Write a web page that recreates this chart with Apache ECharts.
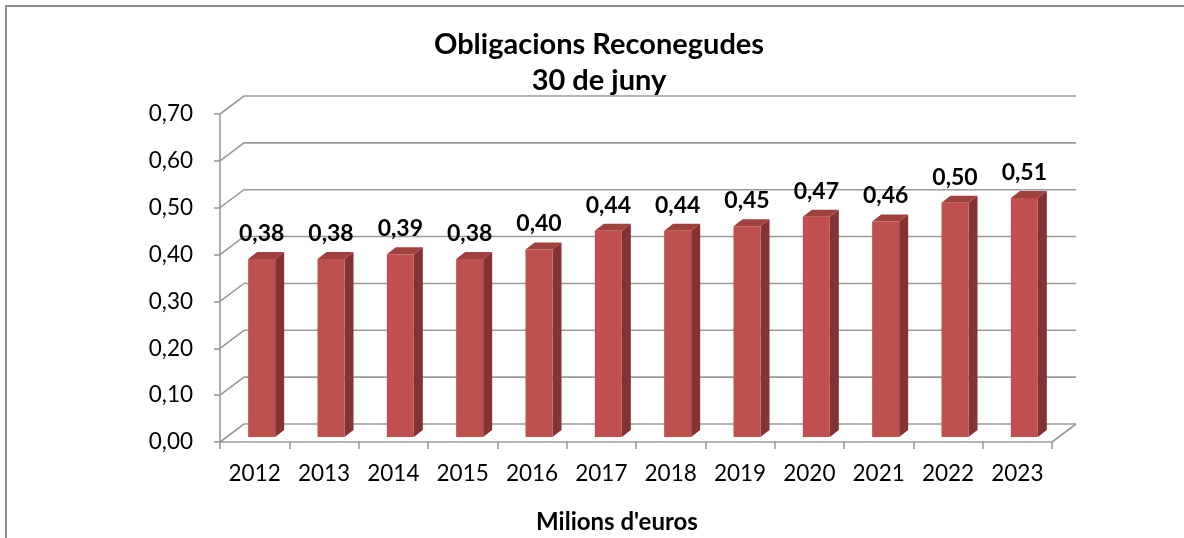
<!DOCTYPE html>
<html>
<head>
<meta charset="utf-8">
<script src="https://cdn.jsdelivr.net/npm/echarts@6/dist/echarts.min.js"></script>
<style>
  html, body { margin: 0; padding: 0; background: #fff; }
  #chart { width: 1184px; height: 538px; }
</style>
</head>
<body>
<div id="chart"></div>
<script>
// dades
var years = ['2012', '2013', '2014', '2015', '2016', '2017', '2018', '2019', '2020', '2021', '2022', '2023'];
var values = [0.38, 0.38, 0.39, 0.38, 0.40, 0.44, 0.44, 0.45, 0.47, 0.46, 0.50, 0.51];
var yTicks = [0, 0.1, 0.2, 0.3, 0.4, 0.5, 0.6, 0.7];

var FONT = 'Lato';
var GRID_COLOR = '#9a9a9a';
var DEPTH_X = 24, DEPTH_Y = -18;   // fons de la paret 3D
var BAR_W = 27, BAR_DX = 7, BAR_DY = -5, SIDE_X = 9, SIDE_Y = -7;

function fmt(v) {
	return v.toFixed(2).replace('.', ',');
}

var myChart = echarts.init(document.getElementById('chart'));

// linies de la paret del fons i el terra
function renderWall(params, api) {
	var cs = params.coordSys;
	var v = api.value(1);
	var y = api.coord([0, v])[1];
	var left = cs.x, right = cs.x + cs.width;
	var style = { stroke: GRID_COLOR, lineWidth: 1.6, fill: null };
	var children = [{
		type: 'polyline',
		shape: { points: [[left, y], [left + DEPTH_X, y + DEPTH_Y], [right + DEPTH_X, y + DEPTH_Y]] },
		style: style
	}];
	if (v === 0) {
		children.push({
			type: 'line',
			shape: { x1: right, y1: y, x2: right + DEPTH_X, y2: y + DEPTH_Y },
			style: style
		});
	}
	return { type: 'group', children: children };
}

// barres amb cara frontal, lateral i superior
function renderBar(params, api) {
	var i = api.value(0);
	var v = api.value(1);
	var top = api.coord([i, v]);
	var base = api.coord([i, 0]);
	var x0 = top[0] + BAR_DX - BAR_W / 2;
	var x1 = x0 + BAR_W;
	var yt = top[1] + BAR_DY;
	var yb = base[1] + BAR_DY;
	return {
		type: 'group',
		children: [{
			type: 'polygon',
			shape: { points: [[x1, yt], [x1 + SIDE_X, yt + SIDE_Y], [x1 + SIDE_X, yb + SIDE_Y], [x1, yb]] },
			style: { fill: '#833331' }
		}, {
			type: 'polygon',
			shape: { points: [[x0, yt], [x0 + SIDE_X, yt + SIDE_Y], [x1 + SIDE_X, yt + SIDE_Y], [x1, yt]] },
			style: { fill: '#A0413E' }
		}, {
			type: 'rect',
			shape: { x: x0, y: yt, width: BAR_W, height: yb - yt },
			style: { fill: '#C0504D' }
		}, {
			type: 'text',
			x: (x0 + x1) / 2,
			y: yt - 14,
			style: {
				text: fmt(v),
				fontFamily: FONT,
				fontWeight: 'bold',
				fontSize: 23,
				fill: '#000',
				align: 'center',
				verticalAlign: 'bottom'
			}
		}]
	};
}

var options = {
	animation: false,
	backgroundColor: '#fff',
	title: [{
		text: 'Obligacions Reconegudes\n30 de juny',
		left: 594,
		top: 22,
		textAlign: 'center',
		textStyle: {
			fontFamily: FONT,
			fontWeight: 'bold',
			fontSize: 29,
			lineHeight: 36,
			color: '#000'
		}
	}, {
		text: "Milions d'euros",
		left: 612,
		top: 505,
		textAlign: 'center',
		textStyle: {
			fontFamily: FONT,
			fontWeight: 'bold',
			fontSize: 24,
			color: '#000'
		}
	}],
	graphic: [{
		type: 'rect',
		shape: { x: 6, y: 6, width: 1400, height: 800 },
		style: { fill: null, stroke: '#8c8c8c', lineWidth: 2 },
		silent: true
	}],
	grid: {
		left: 220,
		right: 132,
		top: 114,
		bottom: 96,
		containLabel: false
	},
	xAxis: {
		type: 'category',
		data: years,
		boundaryGap: true,
		axisLine: { lineStyle: { color: GRID_COLOR, width: 1.6 } },
		axisTick: { show: true, length: 7, lineStyle: { color: GRID_COLOR, width: 1.6 } },
		axisLabel: { fontFamily: FONT, fontSize: 22.5, color: '#000', margin: 20 },
		splitLine: { show: false }
	},
	yAxis: {
		type: 'value',
		min: 0,
		max: 0.7,
		interval: 0.1,
		axisLine: { show: true, lineStyle: { color: GRID_COLOR, width: 1.6 } },
		axisTick: { show: true, length: 6, lineStyle: { color: GRID_COLOR, width: 1.6 } },
		axisLabel: { fontFamily: FONT, fontSize: 22.5, color: '#000', margin: 27, formatter: fmt },
		splitLine: { show: false }
	},
	series: [{
		type: 'custom',
		renderItem: renderWall,
		data: yTicks.map(function(v) { return [0, v]; }),
		encode: { x: 0, y: 1 },
		z: 1,
		silent: true
	}, {
		type: 'custom',
		renderItem: renderBar,
		data: values.map(function(v, i) { return [i, v]; }),
		encode: { x: 0, y: 1 },
		z: 3,
		silent: true
	}]
};

myChart.setOption(options);
</script>
</body>
</html>
